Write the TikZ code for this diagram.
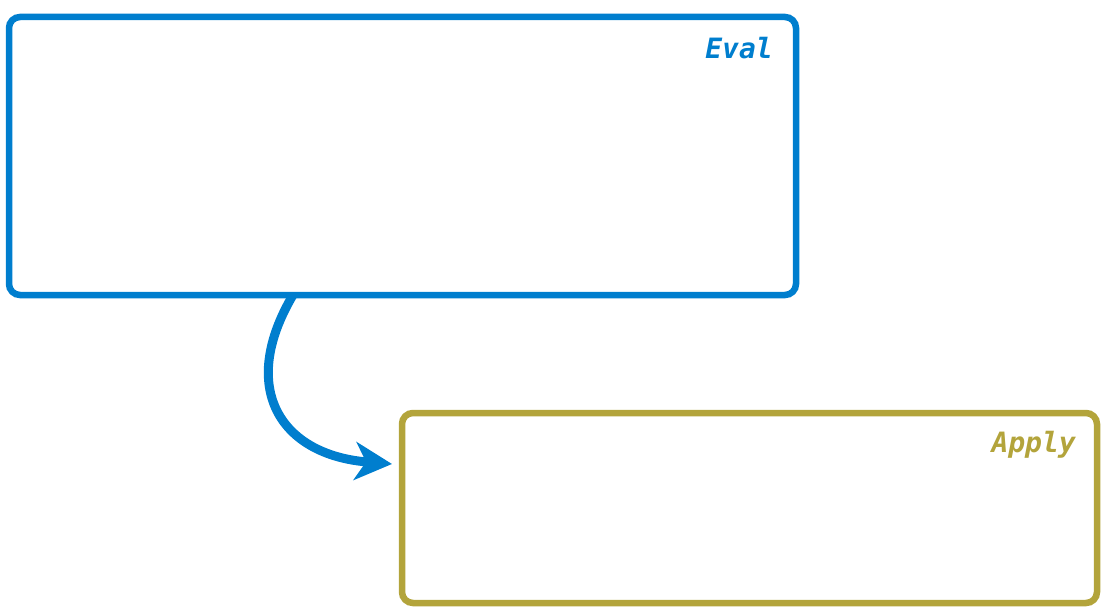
\documentclass[tikz,border=0pt]{standalone}
\usepackage{fontspec}
\setmonofont{DejaVu Sans Mono}
\usetikzlibrary{arrows.meta}
\definecolor{evalblue}{RGB}{0,126,206}
\definecolor{applyolive}{RGB}{179,164,59}
\tikzset{
  frame/.style={draw, rounded corners=11pt, line width=6.5pt, inner sep=0pt, outer sep=0pt},
  tag/.style={font=\fontsize{28}{30}\selectfont\ttfamily\bfseries\itshape, anchor=east, inner sep=0pt},
}
\begin{document}
\begin{tikzpicture}[x=1pt,y=-1pt]
\useasboundingbox (0,0) rectangle (1108,615);
\node[frame, evalblue, minimum width=787pt, minimum height=278pt] (eval) at (402.5,156) {};
\node[frame, applyolive, minimum width=695pt, minimum height=190pt] (apply) at (749.5,508) {};
\node[tag, text=evalblue] (evaltag) at (773,48) {Eval};
\node[tag, text=applyolive] (applytag) at (1076,445) {Apply};
\coordinate (s) at ([xshift=284pt]eval.south west);
\coordinate (t) at ([shift={(-10pt,-51pt)}]apply.north west);
\draw[evalblue, line width=9pt, -{Stealth[length=37pt,width=38pt,inset=11pt]}]
  (s) .. controls +(-55pt,-93pt) and +(-112pt,9pt) .. (t);
\end{tikzpicture}
\end{document}
